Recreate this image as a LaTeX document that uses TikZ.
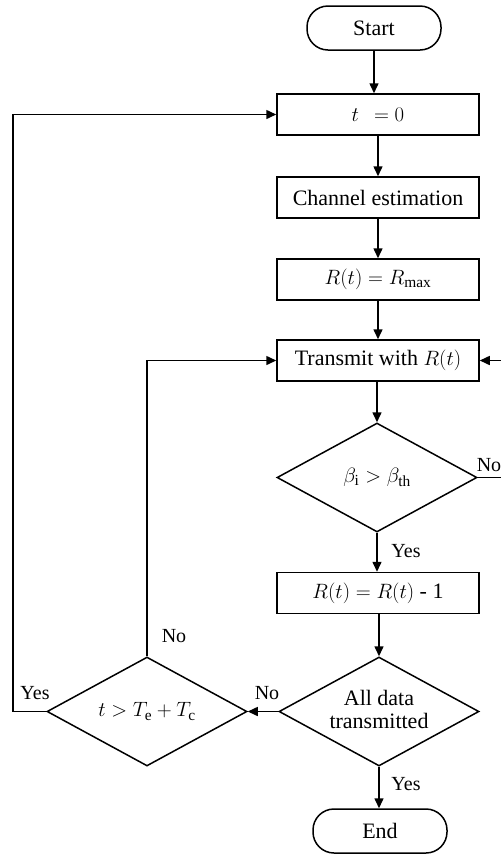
\documentclass[tikz,border=0pt]{standalone}
\usepackage{fontspec}
\setmainfont{Liberation Serif}
\usetikzlibrary{shapes.geometric,arrows.meta}
\begin{document}
\begin{tikzpicture}[x=1pt,y=-1pt,
  font=\fontsize{22}{26}\selectfont,
  line width=1.5pt,
  every node/.style={inner sep=0pt},
  procbox/.style={draw,rectangle,minimum width=202pt,minimum height=41pt},
  termbox/.style={draw,rectangle,rounded corners=21pt,minimum width=134pt,minimum height=44pt},
  decbox/.style={draw,diamond,aspect=1.83,minimum width=200pt,minimum height=109pt},
  flow/.style={-{Triangle[length=10pt,width=9pt]}},
  lbl/.style={font=\fontsize{20}{24}\selectfont}]
\useasboundingbox (0,0) rectangle (501,855);

% main column
\node[termbox] (start) at (374,28) {Start};
\node[procbox] (init) at (378,114.5) {$t\;\,=0$};
\node[procbox] (chan) at (378,197.5) {Channel estimation};
\node[procbox] (rmax) at (378,279.5) {$R(t)=R_{\mathrm{max}}$};
\node[procbox] (tx) at (378,360.5) {Transmit with $R(t)$};
\node[decbox] (beta) at (377,477.5) {$\beta_{\mathrm{i}}>\beta_{\mathrm{th}}$};
\node[procbox] (dec) at (378,593) {$R(t)=R(t)$ - 1};
\node[decbox] (all) at (379,711.5) {\begin{tabular}{@{}c@{}}All data\\[-3pt]transmitted\end{tabular}};
\node[termbox] (end) at (380,831) {End};

% timeout check
\node[decbox] (tout) at (147,711.5) {$t>T_{\mathrm{e}}+T_{\mathrm{c}}$};

% helper points for the loops
\coordinate (leftrail) at (13,711.5);
\coordinate (midrail) at (147,360.5);
\coordinate (rightrail) at (522,477.5);

% straight flow
\draw[flow] (start.south) -- (start.south |- init.north);
\draw[flow] (init.south -| chan.north) -- (chan.north);
\draw[flow] (chan) -- (rmax);
\draw[flow] (rmax) -- (tx);
\draw[flow] (tx.south -| beta.north) -- (beta.north);
\draw[flow] (beta.south) -- (beta.south |- dec.north);
\draw[flow] (dec.south -| all.north) -- (all.north);
\draw[flow] (all.south) -- (all.south |- end.north);
\draw[flow] (all.west) -- (tout.east);

% feedback loops
\draw[flow] (tout.west) -- (leftrail) |- (init.west);
\draw[flow] (tout.north) -- (midrail) -- (tx.west);
\draw[flow] (beta.east) -- (rightrail) |- (tx.east);

% branch labels
\node[lbl,anchor=south west] at (476,472) {No};
\node[lbl] at (406,551) {Yes};
\node[lbl] at (174,636) {No};
\node[lbl] at (35,693) {Yes};
\node[lbl] at (267,693) {No};
\node[lbl] at (406,784) {Yes};
\end{tikzpicture}
\end{document}
